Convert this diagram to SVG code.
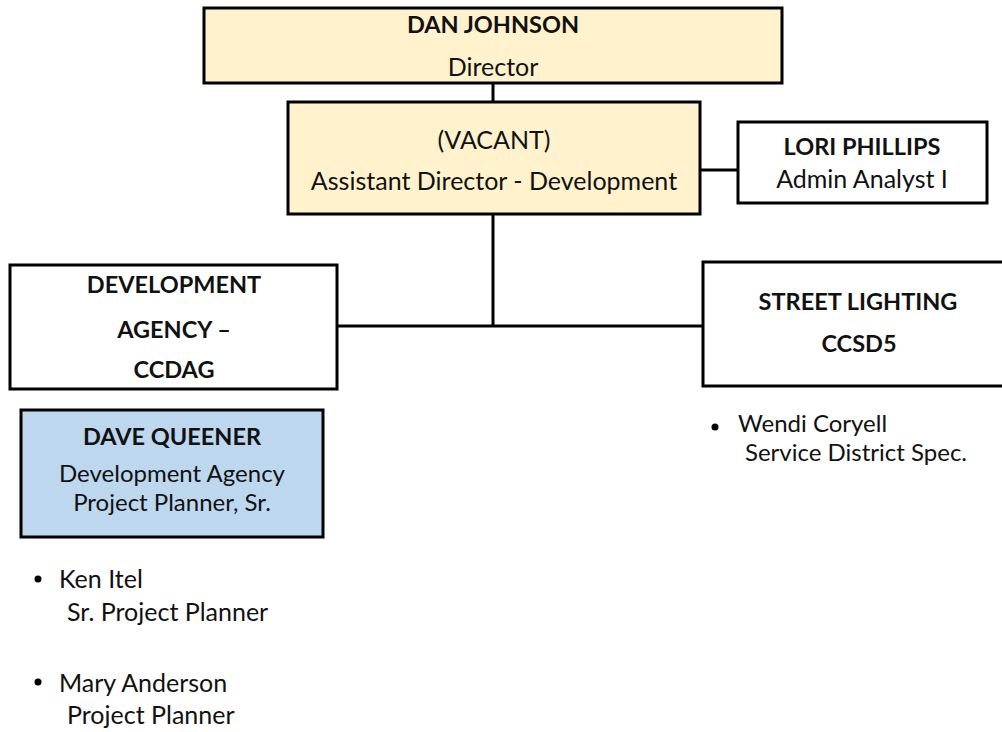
<svg xmlns="http://www.w3.org/2000/svg" width="1002" height="732" viewBox="0 0 1002 732">
<style>
  .box { stroke: #000; stroke-width: 3; }
  .gold { fill: #FFF2CC; }
  .white { fill: #FFFFFF; }
  .blue { fill: #BDD7EE; }
  .conn { stroke: #000; stroke-width: 3; fill: none; }
  text { font-family: Lato, "Open Sans", sans-serif; font-size: 25px; fill: #111; }
  .c { text-anchor: middle; }
  .b { font-weight: bold; font-size: 23.5px; }
  .t { font-size: 24px; }
</style>
<rect width="1002" height="732" fill="#FFFFFF"/>
<g id="connectors">
  <line class="conn" x1="493" y1="83" x2="493" y2="102"/>
  <line class="conn" x1="700" y1="170" x2="738" y2="170"/>
  <line class="conn" x1="493" y1="214" x2="493" y2="326"/>
  <line class="conn" x1="337" y1="326" x2="703" y2="326"/>
</g>
<g id="dan-johnson">
  <rect class="box gold" x="204" y="8" width="578" height="75"/>
  <text class="c b" x="493" y="33">DAN JOHNSON</text>
  <text class="c" x="493" y="76">Director</text>
</g>
<g id="vacant">
  <rect class="box gold" x="288" y="102" width="412" height="112"/>
  <text class="c" x="494" y="149">(VACANT)</text>
  <text class="c" x="494" y="190">Assistant Director - Development</text>
</g>
<g id="lori-phillips">
  <rect class="box white" x="738" y="122" width="249" height="81"/>
  <text class="c b" x="862" y="155">LORI PHILLIPS</text>
  <text class="c" x="862" y="188">Admin Analyst I</text>
</g>
<g id="development-agency">
  <rect class="box white" x="10" y="265" width="327" height="124"/>
  <text class="c b" x="174" y="293">DEVELOPMENT</text>
  <text class="c b" x="174" y="338">AGENCY –</text>
  <text class="c b" x="174" y="378">CCDAG</text>
</g>
<g id="street-lighting">
  <rect class="box white" x="703" y="262" width="312" height="124"/>
  <text class="c b" x="858" y="310">STREET LIGHTING</text>
  <text class="c b" x="859" y="352">CCSD5</text>
</g>
<g id="dave-queener">
  <rect class="box blue" x="21" y="410" width="302" height="127"/>
  <text class="c b" x="172" y="445">DAVE QUEENER</text>
  <text class="c t" x="172" y="482">Development Agency</text>
  <text class="c t" x="172" y="511">Project Planner, Sr.</text>
</g>
<g id="wendi-coryell">
  <circle cx="715" cy="427" r="3.5" fill="#000"/>
  <text class="t" x="738" y="432">Wendi Coryell</text>
  <text class="t" x="745" y="461">Service District Spec.</text>
</g>
<g id="ken-itel">
  <circle cx="38" cy="579" r="3.5" fill="#000"/>
  <text x="59" y="588">Ken Itel</text>
  <text x="67" y="621">Sr. Project Planner</text>
</g>
<g id="mary-anderson">
  <circle cx="38" cy="682" r="3.5" fill="#000"/>
  <text x="59" y="692">Mary Anderson</text>
  <text x="67" y="724">Project Planner</text>
</g>
</svg>
